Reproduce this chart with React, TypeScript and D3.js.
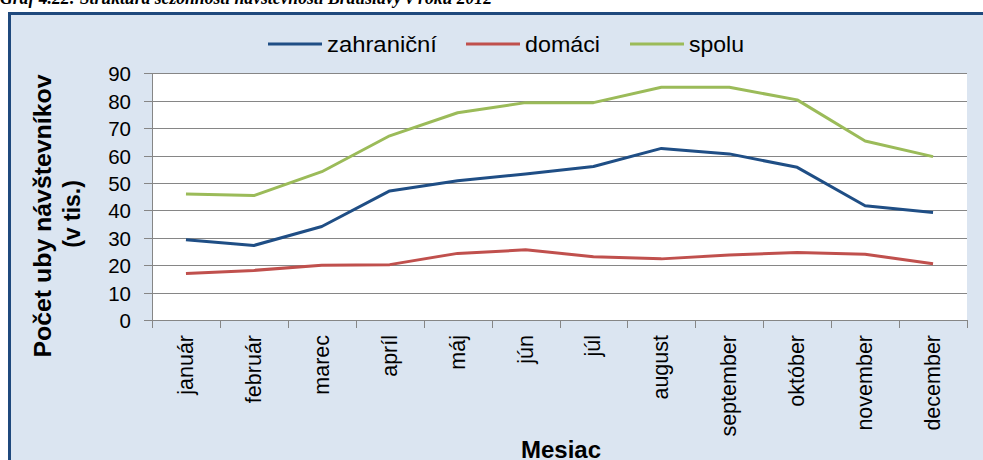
import React from "react";
import * as d3 from "d3";

const months = ["január", "február", "marec", "apríl", "máj", "jún", "júl", "august", "september", "október", "november", "december"];
const zahranicni = [29.3, 27.2, 34.1, 47.1, 50.8, 53.3, 56.0, 62.6, 60.6, 55.7, 41.7, 39.2];
const domaci = [17.0, 18.1, 20.0, 20.2, 24.3, 25.6, 23.1, 22.3, 23.7, 24.6, 24.0, 20.5];
const spolu = [46.0, 45.4, 54.1, 67.2, 75.6, 79.3, 79.3, 84.9, 84.9, 80.3, 65.3, 59.6];
const yTicks = [0, 10, 20, 30, 40, 50, 60, 70, 80, 90];
const seriesNames = ["zahraniční", "domáci", "spolu"];
const seriesColors = ["#1F4E85", "#C0504D", "#9BBB59"];

const W = 983;
const H = 460;
const left = 152;
const right = 967;
const top = 73.3;
const bottom = 320;

export default function App() {
  const x = d3.scaleBand<string>().domain(months).range([left, right]);
  const y = d3.scaleLinear().domain([0, 90]).range([bottom, top]);
  const line = d3
    .line<number>()
    .x((_, i) => (x(months[i]) as number) + x.bandwidth() / 2)
    .y((d) => y(d));
  const series = [zahranicni, domaci, spolu];
  const font = "Arial, 'Liberation Sans', sans-serif";
  const grid = "#868686";
  const legendX = [268, 466, 630];
  const legendLen = [110, 75, 55];

  return (
    <svg width={W} height={H} style={{ position: "absolute", left: 0, top: 0 }} fontFamily={font}>
      <rect x={0} y={0} width={W} height={H} fill="#ffffff" />
      <text x={0} y={4} fontFamily="'Liberation Serif', 'Times New Roman', serif" fontStyle="italic" fontWeight="bold" fontSize={18} textLength={492} lengthAdjust="spacingAndGlyphs" fill="#000">
        Graf 4.22: Štruktúra sezónnosti návštevnosti Bratislavy v roku 2012
      </text>
      <rect x={9.5} y={13.5} width={W + 20} height={H + 20} fill="#DBE5F1" stroke="#1F497D" strokeWidth={3} />
      {/* legend */}
      {seriesNames.map((n, i) => (
        <g key={n}>
          <line x1={legendX[i]} x2={legendX[i] + 54} y1={44} y2={44} stroke={seriesColors[i]} strokeWidth={3} />
          <text x={legendX[i] + 59} y={51.5} fontSize={22} textLength={legendLen[i]} lengthAdjust="spacingAndGlyphs" fill="#000">
            {n}
          </text>
        </g>
      ))}
      {/* plot area */}
      <rect x={left} y={top} width={right - left} height={bottom - top} fill="#ffffff" />
      {yTicks.map((t) => (
        <g key={t}>
          <line x1={left - 8} x2={right} y1={Math.round(y(t)) + 0.5} y2={Math.round(y(t)) + 0.5} stroke={grid} strokeWidth={1} />
          <text x={131} y={y(t) + 8} textAnchor="end" fontSize={20.5} fill="#000">
            {t}
          </text>
        </g>
      ))}
      <line x1={left + 0.5} x2={left + 0.5} y1={top} y2={bottom + 8} stroke={grid} strokeWidth={1} />
      {months.map((m) => {
        const bx = (x(m) as number) + x.bandwidth();
        return <line key={"t" + m} x1={Math.round(bx) + 0.5} x2={Math.round(bx) + 0.5} y1={bottom} y2={bottom + 8} stroke={grid} strokeWidth={1} />;
      })}
      {series.map((s, i) => (
        <path key={i} d={line(s) as string} fill="none" stroke={seriesColors[i]} strokeWidth={3} strokeLinejoin="round" />
      ))}
      {months.map((m) => {
        const cx = (x(m) as number) + x.bandwidth() / 2;
        return (
          <text key={"l" + m} transform={`translate(${cx + 7},335) rotate(-90)`} textAnchor="end" fontSize={21.5} fill="#000">
            {m}
          </text>
        );
      })}
      <text transform="translate(51,216) rotate(-90)" textAnchor="middle" fontSize={23} fontWeight="bold" textLength={283} lengthAdjust="spacingAndGlyphs" fill="#000">
        Počet uby návštevníkov
      </text>
      <text transform="translate(80,214) rotate(-90)" textAnchor="middle" fontSize={23} fontWeight="bold" fill="#000">
        (v tis.)
      </text>
      <text x={561} y={458} textAnchor="middle" fontSize={24} fontWeight="bold" fill="#000">
        Mesiac
      </text>
    </svg>
  );
}
